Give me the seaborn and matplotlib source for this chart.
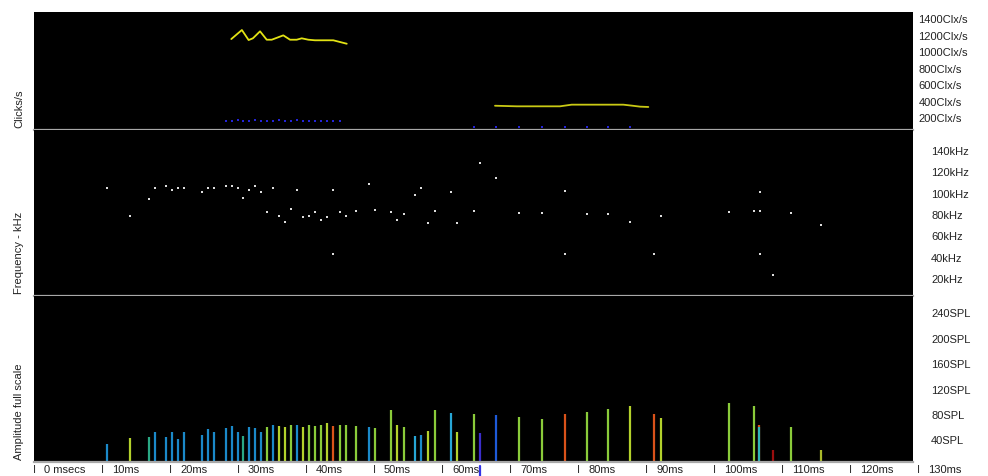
import matplotlib
matplotlib.use("Agg")
import matplotlib.pyplot as plt
from matplotlib import transforms
import pandas as pd
import seaborn as sns

# ---- click train: time (ms), amplitude (SPL), colour class ----
click_ms = [10.69, 14.12, 16.87, 17.75, 19.46, 20.34, 21.18, 22.06, 24.75, 25.63,
            26.47, 28.19, 29.07, 29.96, 30.78, 31.66, 32.50, 33.38, 34.22, 35.15,
            35.99, 36.87, 37.75, 38.63, 39.51, 40.44, 41.32, 42.21, 43.13, 44.01,
            44.96, 45.93, 47.35, 49.22, 50.15, 52.54, 53.43, 54.41, 55.99, 56.96,
            57.94, 58.93, 61.37, 62.25, 64.66, 65.54, 67.94, 71.28, 74.75, 78.09,
            81.28, 84.46, 87.65, 91.18, 92.16, 102.25, 105.88, 106.66, 106.66, 108.72,
            111.28, 115.69]
click_spl = [33, 42, 43.6, 51.5, 43.6, 51.5, 40, 51.5, 47.2, 55.7,
             51.5, 57.8, 61, 51.5, 45.7, 59.4, 57.8, 51.5, 59.8, 63,
             61, 59.8, 63, 63, 59.8, 63, 61, 63, 65.2, 61,
             63, 63, 61, 59.4, 57.8, 85.7, 63, 59.4, 45.7, 46.8,
             53.5, 85.7, 81.4, 51.5, 79.4, 49.4, 78.3, 75.6, 72, 79.4,
             83.5, 87.7, 92.9, 79.4, 73.5, 97.2, 92.9, 63, 59.0, 23.6,
             59.4, 23.6]
click_class = ["blue", "ygreen", "teal", "blue", "blue", "blue", "blue", "blue", "blue", "blue",
               "blue", "blue", "blue", "blue", "teal", "blue", "blue", "blue", "green", "blue",
               "ygreen", "ygreen", "green", "blue", "ygreen", "green", "green", "green", "ygreen", "orange",
               "green", "green", "green", "blue", "green", "green", "ygreen", "green", "cyan", "blue",
               "ygreen", "green", "cyan", "ygreen", "green", "indigo", "royal", "green", "green", "orange",
               "green", "green", "ygreen", "orange", "ygreen", "green", "green", "orange", "aqua", "darkred",
               "green", "olive"]
class_colors = {"blue": "#1b89c9", "cyan": "#27a6d6", "teal": "#2aa884", "aqua": "#2fb6b8",
                "green": "#8acb3a", "ygreen": "#b3d12c", "olive": "#a9b92a",
                "orange": "#d9521a", "indigo": "#3b2dcb", "royal": "#1e5ad8",
                "darkred": "#9a0e0e"}

# ---- peak frequency per click (ms, kHz) ----
freq_ms = [10.69, 14.12, 16.87, 17.75, 19.46, 20.34, 21.18, 22.06, 24.75, 25.63,
           26.47, 28.19, 29.07, 29.96, 30.78, 31.66, 32.50, 33.38, 34.22, 35.15,
           35.99, 36.87, 37.75, 38.63, 39.51, 40.44, 41.32, 42.21, 43.13, 44.01,
           44.01, 44.96, 45.93, 47.35, 49.22, 50.15, 52.54, 53.43, 54.41, 55.99,
           56.96, 57.94, 58.93, 61.37, 62.25, 64.66, 65.54, 67.98, 71.28, 74.75,
           78.09, 78.09, 81.28, 84.46, 87.65, 91.18, 92.16, 102.25, 105.88, 106.76,
           106.76, 106.76, 108.72, 111.28, 115.69]
freq_khz = [104.1, 77.8, 93.8, 104.1, 106.5, 102.7, 104.1, 104.1, 100.9, 104.1,
            104.1, 105.9, 105.9, 104.1, 95.0, 102.7, 105.9, 100.9, 81.8, 104.1,
            77.8, 72.7, 84.7, 102.2, 77.2, 77.8, 81.8, 74.1, 77.2, 102.5,
            42.7, 81.8, 77.8, 83.1, 107.8, 83.7, 81.8, 74.1, 79.7, 97.5,
            104.1, 71.8, 83.1, 100.9, 71.8, 83.1, 127.5, 113.7, 80.9, 80.9,
            101.8, 42.2, 79.7, 79.7, 72.5, 42.7, 77.8, 81.6, 82.8, 82.8,
            100.6, 42.7, 22.5, 80.9, 69.9]

# ---- click rate (clicks/s) for the two trains ----
rate1_ms = [29.01, 30.57, 31.56, 32.19, 33.24, 34.22, 34.96, 36.66, 37.65, 38.63,
            39.37, 40.34, 41.32, 44.01, 45.99]
rate1_val = [1148, 1258, 1136, 1157, 1242, 1140, 1140, 1193, 1140, 1140,
             1157, 1140, 1133, 1133, 1091]
rate2_ms = [67.79, 70.99, 77.35, 79.07, 86.66, 88.04, 89.12, 90.34]
rate2_val = [337, 330, 330, 350, 350, 337, 326, 322]

# ---- per-click marker along the bottom of the rate panel ----
mark_ms = [28.19, 29.07, 29.96, 30.78, 31.66, 32.50, 33.38, 34.22, 35.15, 35.99,
           36.87, 37.75, 38.63, 39.51, 40.44, 41.32, 42.21, 43.13, 44.01, 44.96,
           64.66, 67.94, 71.28, 74.75, 78.09, 81.28, 84.46, 87.65]
mark_val = [150, 150, 165, 150, 150, 165, 150, 150, 150, 165,
            150, 150, 165, 150, 150, 150, 150, 150, 150, 150,
            80, 80, 76, 80, 78, 80, 80, 78]

rate_ticks = [200, 400, 600, 800, 1000, 1200, 1400]
freq_ticks = [20, 40, 60, 80, 100, 120, 140]
amp_ticks = [40, 80, 120, 160, 200, 240]
time_ticks = [0, 10, 20, 30, 40, 50, 60, 70, 80, 90, 100, 110, 120, 130]
time_labels = ["0 msecs"] + [f"{t}ms" for t in time_ticks[1:]]
cursor_ms = 65.6

sns.set_theme(style="dark")
plt.rcParams['font.family'] = ['Liberation Sans', 'DejaVu Sans']

W, H = 988, 477
fig = plt.figure(figsize=(W / 100, H / 100), dpi=100)
fig.patch.set_facecolor("white")


def panel(x0, y0, x1, y1):
    ax = fig.add_axes([x0 / W, 1 - y1 / H, (x1 - x0) / W, (y1 - y0) / H])
    ax.set_facecolor("black")
    ax.grid(False)
    for side in ("top", "left", "right"):
        ax.spines[side].set_visible(False)
    ax.spines["bottom"].set_color("#a8a8a8")
    ax.spines["bottom"].set_linewidth(1.6)
    ax.set_xlim(0, 129.26)
    ax.set_xticks([])
    ax.yaxis.tick_right()
    ax.tick_params(axis="y", length=0, labelsize=8, labelcolor="#222222")
    ax.set_xlabel("")
    ax.set_ylabel("")
    return ax


ax_rate = panel(34, 13, 913, 131)
ax_freq = panel(34, 131, 913, 297)
ax_amp = panel(34, 297, 913, 463)

# click rate panel
sns.lineplot(x=rate1_ms, y=rate1_val, ax=ax_rate, color="#e2e214", lw=1.3,
             sort=False, estimator=None)
sns.lineplot(x=rate2_ms, y=rate2_val, ax=ax_rate, color="#c9c914", lw=1.3,
             sort=False, estimator=None)
sns.scatterplot(x=mark_ms, y=mark_val, ax=ax_rate, color="#2424d8", marker="s",
                s=3, linewidth=0)
ax_rate.set_ylim(42, 1477)
ax_rate.set_yticks(rate_ticks)
ax_rate.set_yticklabels([f"{v}Clx/s" for v in rate_ticks])
ax_rate.tick_params(axis="y", pad=4)

# frequency panel
sns.scatterplot(x=freq_ms, y=freq_khz, ax=ax_freq, color="#dcdcdc", marker="s",
                s=2.2, linewidth=0)
ax_freq.set_ylim(3.1, 158.7)
ax_freq.set_yticks(freq_ticks)
ax_freq.set_yticklabels([f"{v}kHz" for v in freq_ticks])
ax_freq.tick_params(axis="y", pad=13)

# amplitude panel: one thin stem per click
clicks = pd.DataFrame({"ms": click_ms, "spl": click_spl, "cls": click_class})
ax_amp.vlines(clicks["ms"], 0, clicks["spl"],
              colors=[class_colors[c] for c in clicks["cls"]], lw=1.6)
ax_amp.set_ylim(4.25, 265.7)
ax_amp.set_yticks(amp_ticks)
ax_amp.set_yticklabels([f"{v}SPL" for v in amp_ticks])
ax_amp.tick_params(axis="y", pad=13)

# time axis: "I" marks with labels to their right
trans = transforms.blended_transform_factory(ax_amp.transData, ax_amp.transAxes)
label_trans = transforms.offset_copy(trans, fig=fig, x=10, y=0, units="dots")
for t, lab in zip(time_ticks, time_labels):
    ax_amp.text(t, -0.04, "I", transform=trans, ha="center", va="center",
                fontsize=8, color="#333333", clip_on=False)
    ax_amp.text(t, -0.04, lab, transform=label_trans, ha="left", va="center",
                fontsize=8, color="#222222", clip_on=False)
ax_amp.plot([cursor_ms, cursor_ms], [-0.025, -0.09], transform=trans,
            color="#3232e6", lw=1.6, clip_on=False)

# left-hand panel titles
for text, bottom in (("Clicks/s", 131), ("Frequency - kHz", 297),
                     ("Amplitude full scale", 463)):
    fig.text(19.5 / W, 1 - (bottom - 3) / H, text, rotation=90, ha="center",
             va="bottom", fontsize=8, color="#222222")

fig.savefig("out.png", dpi=100, facecolor="white")
